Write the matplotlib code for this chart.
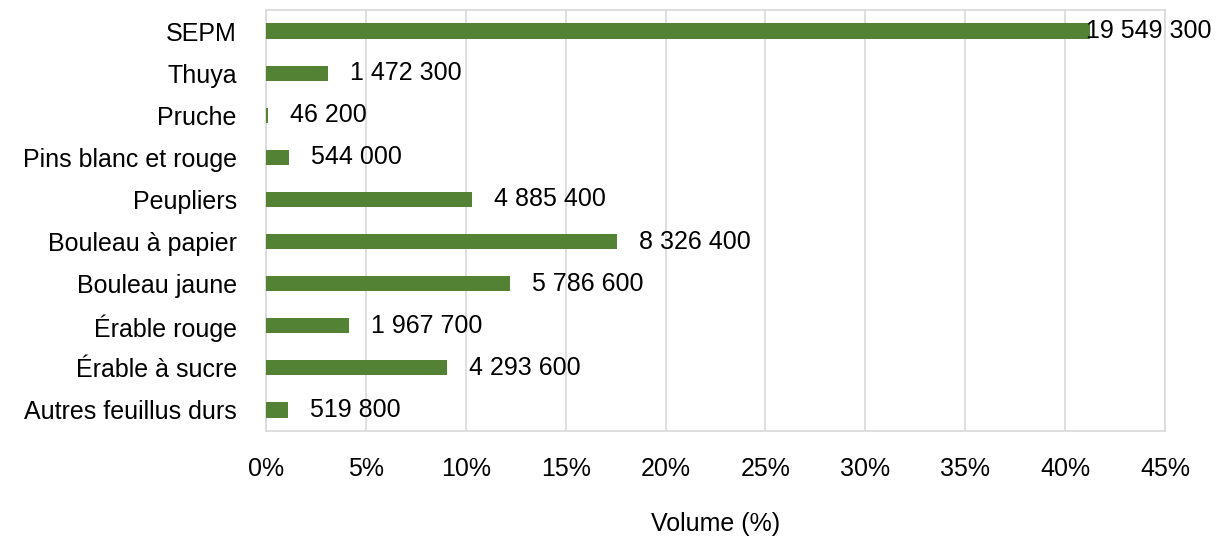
import matplotlib
matplotlib.use("Agg")
import matplotlib.pyplot as plt
from matplotlib.ticker import PercentFormatter, MultipleLocator

species = ["Autres feuillus durs", "Érable à sucre", "Érable rouge", "Bouleau jaune",
           "Bouleau à papier", "Peupliers", "Pins blanc et rouge", "Pruche", "Thuya", "SEPM"]
volumes = [519800, 4293600, 1967700, 5786600, 8326400, 4885400, 544000, 46200, 1472300, 19549300]

total = sum(volumes)
pct = [v / total * 100 for v in volumes]

plt.rcParams['font.family'] = ['Liberation Sans', 'DejaVu Sans']
plt.rcParams['font.size'] = 18

W, H = 1219, 538
fig, ax = plt.subplots(figsize=(W / 100, H / 100), dpi=100)
fig.subplots_adjust(left=266 / W, right=1165 / W, top=1 - 10 / H, bottom=1 - 431 / H)

ypos = range(len(species))
ax.barh(ypos, pct, height=0.36, color="#548235", zorder=3)

ax.set_yticks(list(ypos))
ax.set_yticklabels(species)
ax.set_ylim(-0.5, len(species) - 0.5)
ax.set_xlim(0, 45)
ax.xaxis.set_major_locator(MultipleLocator(5))
ax.xaxis.set_major_formatter(PercentFormatter(decimals=0))
ax.tick_params(axis="both", length=0, colors="black")
ax.tick_params(axis="x", pad=19)
ax.tick_params(axis="y", pad=21)
ax.grid(axis="x", color="#d9d9d9", linewidth=1.2, zorder=0)
for s in ax.spines.values():
    s.set_color("#d9d9d9")
    s.set_linewidth(1.2)
ax.set_xlabel("Volume (%)", labelpad=22)

# value labels, thousands separated by spaces
imax = pct.index(max(pct))
for i, (p, v) in enumerate(zip(pct, volumes)):
    txt = f"{v:,}".replace(",", " ")
    off = -3 if i == imax else 16
    ax.annotate(txt, (p, i), xytext=(off, 0), textcoords="offset points",
                va="center", ha="left", zorder=4, annotation_clip=False)

plt.savefig("out.png", dpi=100)
